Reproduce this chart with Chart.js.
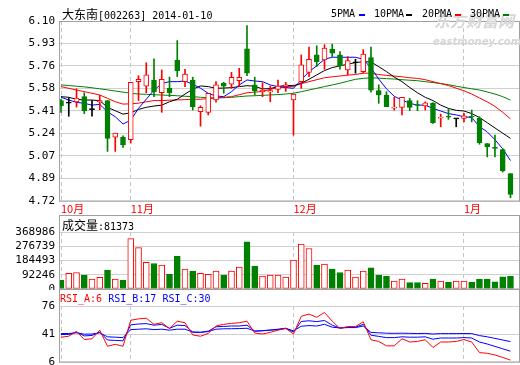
<!DOCTYPE html>
<html>
<head>
<meta charset="utf-8">
<script src="https://cdn.jsdelivr.net/npm/chart.js@4.4.1/dist/chart.umd.min.js"></script>
<style>
  body { margin: 0; background: #fff; }
  #wrap { position: relative; width: 520px; height: 365px; overflow: hidden; background: #fff;
          font-family: "DejaVu Sans Mono", "Noto Sans CJK SC", monospace; font-size: 10px; color: #000; }
  canvas { position: absolute; left: 0; }
  .txt { position: absolute; white-space: pre; line-height: 12px; }
  .cn { font-family: "Noto Sans CJK SC", sans-serif; font-size: 12px; }
  .dash { position: absolute; width: 6px; height: 2px; }
  .wm { position: absolute; white-space: nowrap; color: #d6d6d6; font-family: "Noto Sans CJK SC", sans-serif; font-weight: bold; font-style: italic; }
</style>
</head>
<body>
<div id="wrap">
  <canvas id="kline" width="520" height="216" style="top:0"></canvas>
  <canvas id="vol" width="520" height="75" style="top:215px"></canvas>
  <canvas id="rsi" width="520" height="76" style="top:289px"></canvas>

  <div class="wm" style="left:434px;top:8px;font-size:16px;">东方财富网</div>
  <div class="wm" style="left:433px;top:36px;font-size:10px;font-family:'DejaVu Sans';">eastmoney.com</div>

  <div class="txt" style="left:62px;top:8px;"><span class="cn">大东南</span>[002263] 2014-01-10</div>
  <div class="txt" style="left:331px;top:8px;">5PMA</div><div class="dash" style="left:359px;top:14px;background:#0000ff"></div>
  <div class="txt" style="left:374px;top:8px;">10PMA</div><div class="dash" style="left:406px;top:14px;background:#000"></div>
  <div class="txt" style="left:422px;top:8px;">20PMA</div><div class="dash" style="left:455px;top:14px;background:#ff0000"></div>
  <div class="txt" style="left:470px;top:8px;">30PMA</div><div class="dash" style="left:503px;top:14px;background:#008000"></div>

  <div class="txt" style="left:62px;top:219px;"><span class="cn">成交量</span>:81373</div>
  <div class="txt" style="left:60px;top:293px;"><span style="color:#ff0000">RSI_A:6</span> <span style="color:#0000ff">RSI_B:17</span> <span style="color:#0000ff">RSI_C:30</span></div>
</div>

<script>
// ===== Data (2013-10-21 .. 2014-01-10, one entry per trading day) =====
let monthIdx = [0, 9, 30, 52];
let monthNames = ["10月", "11月", "12月", "1月"];

let priceTicks = ["4.72", "4.89", "5.07", "5.24", "5.41", "5.58", "5.76", "5.93", "6.10"];
let volTicks = ["0", "92246", "184493", "276739", "368986"];
let rsiTicks = ["6", "41", "76"];

let open = [5.49, 5.47, 5.48, 5.52, 5.42, 5.48, 5.49, 5.21, 5.21, 5.19,
  5.635, 5.60, 5.648, 5.55, 5.584, 5.80, 5.635, 5.648, 5.404, 5.40,
  5.494, 5.625, 5.615, 5.643, 5.887, 5.61, 5.556, 5.556, 5.576, 5.597,
  5.494, 5.635, 5.706, 5.84, 5.802, 5.884, 5.84, 5.725, 5.78, 5.712,
  5.82, 5.566, 5.533, 5.432, 5.438, 5.489, 5.46, 5.448, 5.469, 5.355,
  5.37, 5.35, 5.353, 5.37, 5.353, 5.161, 5.13, 5.115, 4.93];
let high = [5.50, 5.51, 5.58, 5.55, 5.49, 5.53, 5.49, 5.24, 5.22, 5.63,
  5.68, 5.78, 5.81, 5.725, 5.67, 5.95, 5.73, 5.669, 5.45, 5.545,
  5.635, 5.63, 5.707, 5.738, 6.064, 5.669, 5.627, 5.602, 5.648, 5.63,
  5.54, 5.84, 5.90, 5.91, 5.918, 5.923, 5.866, 5.827, 5.807, 5.88,
  5.90, 5.61, 5.558, 5.515, 5.515, 5.507, 5.489, 5.48, 5.475, 5.386,
  5.43, 5.35, 5.392, 5.417, 5.366, 5.161, 5.225, 5.122, 4.93];
let low = [5.40, 5.37, 5.44, 5.39, 5.37, 5.42, 5.10, 5.10, 5.13, 5.165,
  5.49, 5.55, 5.52, 5.40, 5.52, 5.674, 5.597, 5.417, 5.294, 5.38,
  5.477, 5.546, 5.584, 5.597, 5.681, 5.533, 5.52, 5.481, 5.55, 5.56,
  5.225, 5.584, 5.674, 5.75, 5.73, 5.827, 5.73, 5.687, 5.70, 5.70,
  5.555, 5.469, 5.443, 5.417, 5.379, 5.412, 5.412, 5.417, 5.315, 5.289,
  5.346, 5.289, 5.327, 5.327, 5.155, 5.058, 5.058, 4.942, 4.745];
let close = [5.45, 5.47, 5.51, 5.41, 5.42, 5.49, 5.20, 5.24, 5.15, 5.63,
  5.653, 5.687, 5.558, 5.653, 5.55, 5.717, 5.694, 5.443, 5.438, 5.545,
  5.61, 5.60, 5.669, 5.669, 5.70, 5.563, 5.571, 5.566, 5.602, 5.61,
  5.54, 5.764, 5.807, 5.789, 5.892, 5.854, 5.756, 5.797, 5.78, 5.846,
  5.57, 5.533, 5.443, 5.44, 5.515, 5.438, 5.452, 5.473, 5.32, 5.361,
  5.362, 5.35, 5.373, 5.362, 5.168, 5.135, 5.124, 4.95, 4.77];

let volume = [58000, 101000, 107000, 90000, 64000, 75000, 122000, 65000, 58000, 326000,
  268000, 172000, 165000, 155000, 95000, 212000, 129000, 116000, 101000, 95000,
  116000, 90000, 116000, 142000, 305000, 148000, 84000, 90000, 90000, 77000,
  187000, 290000, 262000, 155000, 161000, 129000, 107000, 122000, 77000, 116000,
  137000, 90000, 84000, 52000, 64000, 41000, 41000, 37000, 64000, 52000,
  45000, 52000, 52000, 45000, 64000, 64000, 47000, 79000, 81373];

let ma5 = [5.515, 5.494, 5.476, 5.469, 5.455, 5.461, 5.404, 5.366, 5.31, 5.34,
  5.43, 5.50, 5.57, 5.62, 5.635, 5.635, 5.64, 5.615, 5.585, 5.545,
  5.525, 5.52, 5.558, 5.61, 5.648, 5.64, 5.635, 5.61, 5.597, 5.59,
  5.584, 5.648, 5.712, 5.756, 5.807, 5.822, 5.822, 5.822, 5.822, 5.807,
  5.74, 5.655, 5.58, 5.523, 5.494, 5.469, 5.455, 5.455, 5.43, 5.41,
  5.39, 5.38, 5.366, 5.36, 5.29, 5.25, 5.19, 5.12, 5.03];
let ma10 = [5.52, 5.515, 5.50, 5.494, 5.494, 5.489, 5.438, 5.412, 5.386, 5.396,
  5.422, 5.438, 5.448, 5.455, 5.481, 5.50, 5.54, 5.577, 5.602, 5.597,
  5.584, 5.586, 5.589, 5.597, 5.604, 5.60, 5.579, 5.582, 5.597, 5.607,
  5.604, 5.622, 5.653, 5.687, 5.72, 5.743, 5.756, 5.769, 5.781, 5.788,
  5.786, 5.75, 5.712, 5.67, 5.635, 5.59, 5.55, 5.515, 5.49, 5.455,
  5.43, 5.415, 5.41, 5.39, 5.36, 5.32, 5.28, 5.24, 5.20];
let ma20 = [5.597, 5.584, 5.571, 5.558, 5.546, 5.533, 5.507, 5.481, 5.463, 5.465,
  5.47, 5.48, 5.49, 5.49, 5.493, 5.495, 5.497, 5.50, 5.50, 5.505,
  5.51, 5.515, 5.52, 5.535, 5.55, 5.555, 5.56, 5.575, 5.59, 5.595,
  5.60, 5.62, 5.635, 5.65, 5.665, 5.672, 5.678, 5.685, 5.69, 5.70,
  5.70, 5.69, 5.683, 5.678, 5.672, 5.665, 5.66, 5.65, 5.635, 5.62,
  5.605, 5.585, 5.565, 5.54, 5.51, 5.48, 5.445, 5.40, 5.35];
let ma30 = [5.61, 5.605, 5.60, 5.595, 5.588, 5.58, 5.572, 5.563, 5.555, 5.546,
  5.54, 5.538, 5.535, 5.532, 5.53, 5.527, 5.523, 5.52, 5.515, 5.512,
  5.51, 5.512, 5.515, 5.52, 5.525, 5.527, 5.53, 5.533, 5.536, 5.54,
  5.546, 5.558, 5.571, 5.584, 5.597, 5.61, 5.623, 5.638, 5.653, 5.66,
  5.665, 5.662, 5.658, 5.655, 5.65, 5.646, 5.642, 5.635, 5.628, 5.62,
  5.612, 5.60, 5.59, 5.58, 5.571, 5.556, 5.54, 5.52, 5.494];

let rsiA = [37.0, 38.2, 44.3, 34.1, 35.0, 45.8, 25.7, 28.1, 25.7, 58.2,
  59.9, 60.7, 53.1, 55.1, 47.9, 57.0, 55.1, 39.8, 38.2, 41.8,
  51.0, 53.1, 54.3, 55.1, 57.0, 42.2, 41.0, 43.1, 45.8, 47.9,
  41.0, 63.1, 65.9, 61.9, 67.9, 57.0, 47.9, 50.3, 50.3, 56.3,
  33.8, 31.7, 26.2, 26.2, 35.0, 31.0, 31.7, 33.8, 24.1, 31.0,
  31.0, 31.7, 34.1, 31.0, 17.7, 16.9, 14.8, 11.7, 8.4];
let rsiB = [40.4, 40.4, 43.4, 38.6, 39.2, 43.4, 33.5, 33.0, 32.5, 52.5,
  53.5, 54, 52, 53, 48.2, 52, 51.5, 43.4, 43, 44.6,
  50, 50.5, 51, 51, 52, 44.6, 45.2, 46, 47, 48.2,
  43.4, 56.7, 57.5, 56.5, 57.9, 52, 48.5, 49.5, 49.5, 53.1,
  39.5, 38, 36.5, 36.5, 37.5, 37, 37, 37.5, 34.5, 36,
  36, 36, 36.5, 36, 31, 28.5, 25.5, 22.5, 19.5];
let rsiC = [41.6, 41.6, 42.5, 40.8, 41, 42.5, 37.5, 37, 36.5, 46.5,
  47, 47.5, 46.5, 47, 45.8, 47, 47, 43.4, 43.2, 44,
  47, 47.5, 47.6, 47.8, 48.2, 44.6, 45, 45.8, 46.5, 48,
  45, 50.7, 51.5, 51, 53.1, 49.5, 48.5, 49, 49, 51,
  43, 42.5, 42, 41.8, 42, 41.8, 41.6, 41.8, 41, 41.5,
  41.5, 41.5, 41.6, 41.5, 39, 37.5, 35.5, 33.5, 31.5];

// ===== Helpers =====
const RED = "#ff0000", GREEN = "#008000", BLUE = "#0000ff", BLACK = "#000000";
const tickFont = { family: "DejaVu Sans Mono", size: 11 };
let idx = open.map((_, i) => i);

function pts(arr) {
  return idx.map(i => ({ x: i, y: arr[i] }));
}

function candleColor(i) {
  if (close[i] > open[i]) return RED;
  if (close[i] < open[i]) return GREEN;
  return BLACK;
}

function maLine(label, arr, color) {
  return {
    type: "line", label, data: pts(arr), borderColor: color, borderWidth: 1,
    pointRadius: 0, tension: 0, order: 3
  };
}

// keep the plot box exactly where the axis sizes put it
function noPad(s) {
  s.paddingTop = 0; s.paddingBottom = 0; s.paddingLeft = 0; s.paddingRight = 0;
}

// draws the grey box round each panel
const framePlugin = {
  id: "frame",
  afterDraw(chart, args, opts) {
    let { ctx, chartArea: a } = chart;
    let top = opts.top == null ? a.top : opts.top;
    ctx.save();
    ctx.strokeStyle = "#a0a0a0";
    ctx.lineWidth = 1;
    ctx.strokeRect(a.left + 0.5, top + 0.5, a.right - a.left - 1, a.bottom - top - 0.5);
    ctx.restore();
  }
};

// same x layout for all three panels
function xScale(showMonths) {
  return {
    type: "linear", min: -0.26, max: 59.23,
    offset: false,
    afterBuildTicks: s => { s.ticks = monthIdx.map(v => ({ value: v })); },
    afterFit: s => { s.height = showMonths ? 15 : 0; noPad(s); },
    ticks: {
      display: showMonths, autoSkip: false, maxRotation: 0, align: "start",
      color: RED, font: { family: "Noto Sans CJK SC", size: 11 }, padding: 1,
      callback: (v, i) => monthNames[i]
    },
    grid: { color: "#c4c4c4", drawTicks: false, offset: false },
    border: { display: false, dash: [4, 3] }
  };
}

function yScale(min, max, step, labels) {
  return {
    min, max,
    afterFit: s => { s.width = 59; noPad(s); },
    ticks: { stepSize: step, autoSkip: false, font: tickFont, color: BLACK, padding: 4, callback: (v, i) => labels[i] },
    grid: { color: "#d0d0d0", drawTicks: false },
    border: { display: false }
  };
}

const common = {
  responsive: false,
  animation: false,
  events: [],
  plugins: { legend: { display: false }, tooltip: { enabled: false } }
};

// ===== K-line panel =====
new Chart(document.getElementById("kline"), {
  data: {
    datasets: [
      {
        type: "bar", label: "body", data: idx.map(i => ({ x: i, y: [open[i], close[i]] })),
        backgroundColor: c => close[c.dataIndex] > open[c.dataIndex] ? "#ffffff" : candleColor(c.dataIndex),
        borderColor: c => candleColor(c.dataIndex),
        borderWidth: 1, borderSkipped: false, barThickness: 5, minBarLength: 1,
        grouped: false, order: 1
      },
      {
        type: "bar", label: "wick", data: idx.map(i => ({ x: i, y: [low[i], high[i]] })),
        backgroundColor: c => candleColor(c.dataIndex),
        barThickness: 1, grouped: false, order: 2
      },
      maLine("5PMA", ma5, BLUE),
      maLine("10PMA", ma10, BLACK),
      maLine("20PMA", ma20, RED),
      maLine("30PMA", ma30, GREEN)
    ]
  },
  options: {
    ...common,
    layout: { padding: { top: 21, right: 0, left: 0, bottom: 0 } },
    scales: { x: xScale(true), y: yScale(4.72, 6.10, 0.1725, priceTicks) }
  },
  plugins: [framePlugin]
});

// ===== Volume panel =====
new Chart(document.getElementById("vol"), {
  data: {
    datasets: [{
      type: "bar", label: "成交量", data: pts(volume),
      backgroundColor: c => close[c.dataIndex] >= open[c.dataIndex] ? "#ffffff" : GREEN,
      borderColor: c => close[c.dataIndex] >= open[c.dataIndex] ? RED : GREEN,
      borderWidth: 1, borderSkipped: false, barThickness: 6, grouped: false
    }]
  },
  options: {
    ...common,
    layout: { padding: { top: 17, right: 0, left: 0, bottom: 1 } },
    scales: { x: xScale(false), y: yScale(0, 368986, 92246.5, volTicks) },
    plugins: { ...common.plugins, frame: { top: 0 } }
  },
  plugins: [framePlugin]
});

// ===== RSI panel =====
new Chart(document.getElementById("rsi"), {
  type: "line",
  data: {
    datasets: [
      { label: "RSI_A:6", data: pts(rsiA), borderColor: RED, borderWidth: 1, pointRadius: 0 },
      { label: "RSI_B:17", data: pts(rsiB), borderColor: BLUE, borderWidth: 1, pointRadius: 0 },
      { label: "RSI_C:30", data: pts(rsiC), borderColor: BLUE, borderWidth: 1, pointRadius: 0 }
    ]
  },
  options: {
    ...common,
    layout: { padding: { top: 17, right: 0, left: 0, bottom: 3 } },
    scales: { x: xScale(false), y: yScale(6, 76, 35, rsiTicks) },
    plugins: { ...common.plugins, frame: { top: 0 } }
  },
  plugins: [framePlugin]
});
</script>
</body>
</html>
